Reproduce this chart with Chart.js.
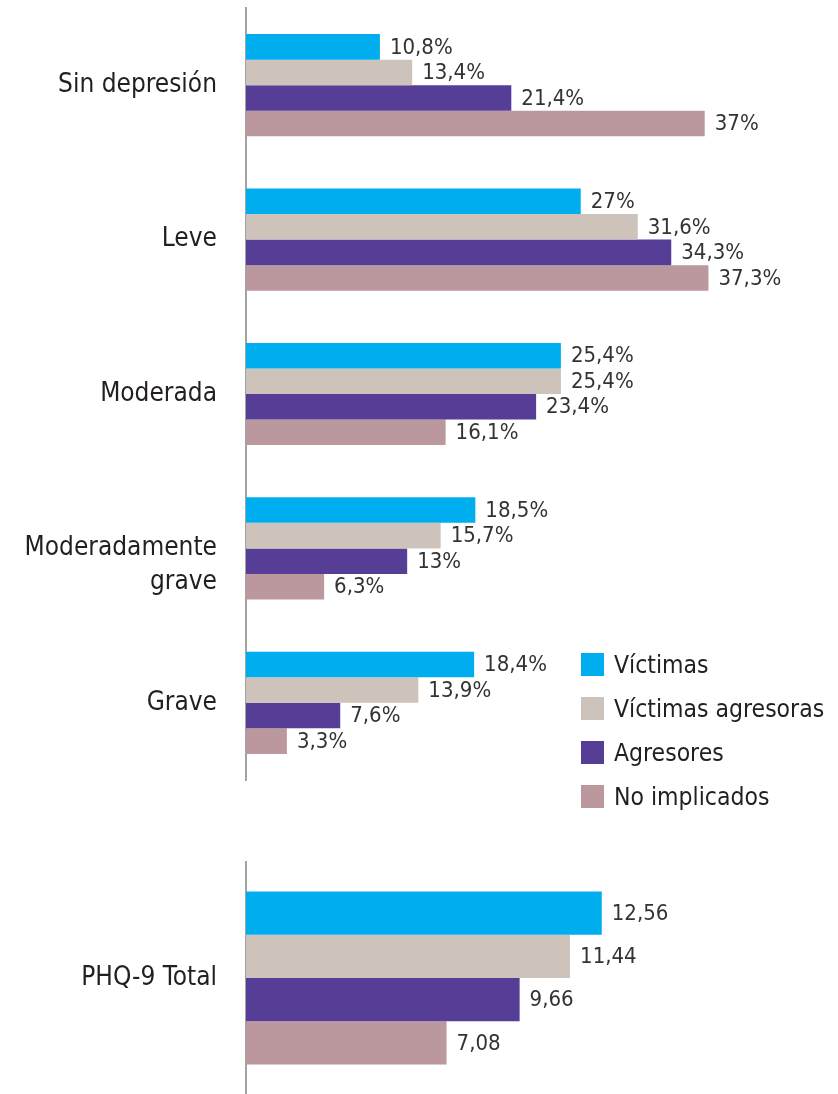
<!DOCTYPE html>
<html>
<head>
<meta charset="utf-8">
<script src="https://cdn.jsdelivr.net/npm/chart.js@4.4.1/dist/chart.umd.min.js"></script>
<style>
  body { margin: 0; background: #fff; width: 838px; height: 1094px; position: relative; overflow: hidden;
         font-family: 'Liberation Sans Narrow', 'DejaVu Sans Condensed', sans-serif; }
  #topWrap { position: absolute; left: 0; top: 0; width: 838px; height: 790px; }
  #bottomWrap { position: absolute; left: 0; top: 850px; width: 838px; height: 244px; }
  #legend { position: absolute; left: 581px; top: 642px; color: #231f20; font-size: 24.5px; }
  #legend div { height: 44px; display: flex; align-items: center; }
  #legend span.box { display: inline-block; width: 23px; height: 23px; margin-right: 10px; }
</style>
</head>
<body>
<div id="topWrap"><canvas id="topChart"></canvas></div>
<div id="bottomWrap"><canvas id="bottomChart"></canvas></div>
<div id="legend"></div>
<script>
// Datos
// (línea vacía delante de "Moderadamente" para que la primera línea quede centrada en el grupo)
const categorias = ['Sin depresión', 'Leve', 'Moderada', ['', 'Moderadamente', 'grave'], 'Grave'];
const series = ['Víctimas', 'Víctimas agresoras', 'Agresores', 'No implicados'];
const colores = ['#00aeef', '#cdc3ba', '#563d96', '#ba989e'];

const victimas = [10.8, 27, 25.4, 18.5, 18.4];
const victimasAgresoras = [13.4, 31.6, 25.4, 15.7, 13.9];
const agresores = [21.4, 34.3, 23.4, 13, 7.6];
const noImplicados = [37, 37.3, 16.1, 6.3, 3.3];

const phqCategoria = ['PHQ-9 Total'];
const phqTotal = [12.56, 11.44, 9.66, 7.08];

const FONT = "'Liberation Sans Narrow', 'DejaVu Sans Condensed', sans-serif";

// Etiquetas de valor al final de cada barra
const valueLabels = {
    id: 'valueLabels',
    afterDatasetsDraw(chart, args, opts) {
        const ctx = chart.ctx;
        ctx.save();
        ctx.font = opts.size + 'px ' + FONT;
        ctx.fillStyle = '#333';
        ctx.textBaseline = 'middle';
        ctx.textAlign = 'left';
        chart.data.datasets.forEach((ds, i) => {
            chart.getDatasetMeta(i).data.forEach((bar, j) => {
                ctx.fillText(opts.format(ds.data[j]), bar.x + opts.offset, bar.y + 1);
            });
        });
        ctx.restore();
    }
};

const fmtPct = v => String(v).replace('.', ',') + '%';
const fmtNum = v => v.toFixed(2).replace('.', ',');

function baseOptions(maxX, fmt) {
    return {
        indexAxis: 'y',
        responsive: true,
        maintainAspectRatio: false,
        animation: false,
        layout: { padding: 0 },
        plugins: {
            legend: { display: false },
            tooltip: { enabled: false },
            valueLabels: { size: 22, offset: 10, format: fmt }
        },
        scales: {
            x: { display: false, min: 0, max: maxX },
            y: {
                grid: { display: false, drawTicks: false },
                border: { display: true, color: '#a3a3a3', width: 2 },
                ticks: {
                    color: '#231f20',
                    font: { family: FONT, size: 26, lineHeight: 1.3 },
                    padding: 29
                },
                afterFit(scale) {
                    scale.width = 246;
                    scale.paddingTop = 0;
                    scale.paddingBottom = 0;
                }
            }
        }
    };
}

// Gráfico superior
const topOpts = baseOptions(47.75, fmtPct);
topOpts.layout.padding = { top: 8, bottom: 10 };
new Chart(document.getElementById('topChart'), {
    type: 'bar',
    data: {
        labels: categorias,
        datasets: [victimas, victimasAgresoras, agresores, noImplicados].map((d, i) => ({
            label: series[i],
            data: d,
            backgroundColor: colores[i],
            borderWidth: 0,
            categoryPercentage: 0.662,
            barPercentage: 1
        }))
    },
    options: topOpts,
    plugins: [valueLabels]
});

// Gráfico inferior
const bottomOpts = baseOptions(20.9, fmtNum);
bottomOpts.layout.padding = { top: 12, bottom: 0 };
new Chart(document.getElementById('bottomChart'), {
    type: 'bar',
    data: {
        labels: phqCategoria,
        datasets: phqTotal.map((v, i) => ({
            label: series[i],
            data: [v],
            backgroundColor: colores[i],
            borderWidth: 0,
            categoryPercentage: 0.746,
            barPercentage: 1
        }))
    },
    options: bottomOpts,
    plugins: [valueLabels]
});

// Leyenda
const legend = document.getElementById('legend');
series.forEach((s, i) => {
    const row = document.createElement('div');
    row.innerHTML = '<span class="box" style="background:' + colores[i] + '"></span>' + s;
    legend.appendChild(row);
});
</script>
</body>
</html>
